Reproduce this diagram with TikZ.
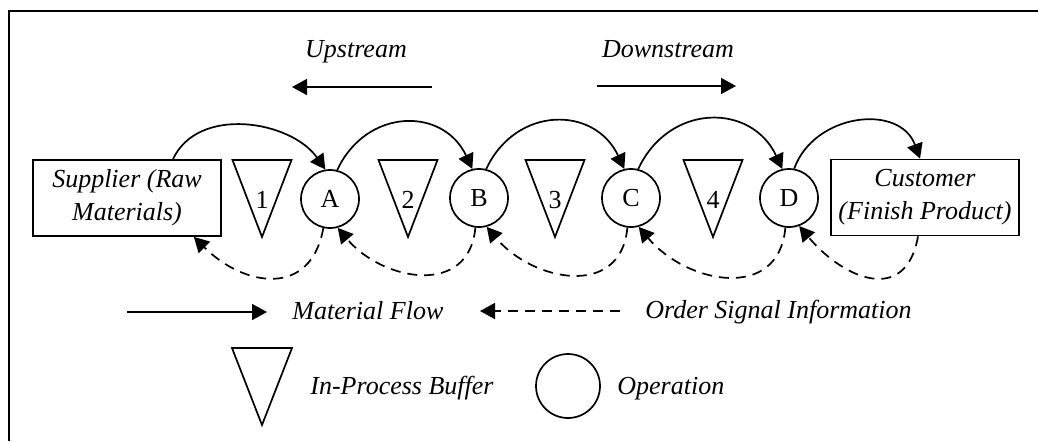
\documentclass[tikz,border=0pt]{standalone}
\usepackage{fontspec}
\setmainfont{Liberation Serif}
\usetikzlibrary{arrows.meta,calc}
\begin{document}
\begin{tikzpicture}[x=0.5pt,y=0.5pt,
  font=\fontsize{13}{16.5}\selectfont,
  shp/.style={draw,line width=0.85pt},
  box/.style={shp,rectangle,minimum width=94pt,minimum height=38pt,align=center,inner sep=0pt,font=\fontsize{13}{16.5}\selectfont\itshape},
  op/.style={shp,circle,minimum size=29pt,inner sep=0pt},
  flow/.style={line width=0.85pt,-{Triangle[length=7.5pt,width=8pt]}},
  sig/.style={flow,dash pattern=on 5pt off 3.5pt},
  lbl/.style={font=\fontsize{13}{16.5}\selectfont\itshape,inner sep=0pt}]
\useasboundingbox (0,0) rectangle (1038,-441);
\draw[line width=1.2pt] (9,-441) -- (9,-11) -- (1038,-11);

% direction labels
\node[lbl,anchor=base] (up) at (356,-57) {Upstream};
\node[lbl,anchor=base] (down) at (668,-57) {Downstream};
\coordinate (u1) at (432,-87);
\coordinate (u2) at (292,-87);
\coordinate (d1) at (597,-86);
\coordinate (d2) at (736,-86);
\draw[flow] (u1) -- (u2);
\draw[flow] (d1) -- (d2);

% boxes
\node[box] (sup) at (127,-198) {Supplier (Raw\\Materials)};
\node[box] (cus) at (925,-197.5) {Customer\\(Finish Product)};

% operations
\node[op] (A) at (330,-199) {A};
\node[op] (B) at (479,-198) {B};
\node[op] (C) at (631,-198) {C};
\node[op] (D) at (789,-198) {D};

% buffers
\foreach \n/\x in {1/262,2/408,3/555,4/713} {
  \draw[shp] ({\x-29.5},-160) -- ({\x+29.5},-160) -- (\x,-237) -- cycle;
  \node[inner sep=0pt] (t\n) at (\x,-200) {\n};
}

% material flow arcs
\draw[flow] ($(sup.north)+(46,0)$) to[out=65,in=125,looseness=1.0] (A.99);
\draw[flow] (A.76) to[out=65,in=115,looseness=1.3] (B.103);
\draw[flow] (B.76) to[out=65,in=115,looseness=1.3] (C.103);
\draw[flow] (C.76) to[out=65,in=115,looseness=1.3] (D.103);
\draw[flow] (D.80) to[out=70,in=110,looseness=1.2] ($(cus.north)+(-5,0)$);

% order signal arcs
\draw[sig] (A.257) to[out=-100,in=-45,looseness=1.4] ($(sup.south east)+(-28,0)$);
\draw[sig] (B.263) to[out=-95,in=-50,looseness=1.3] (A.285);
\draw[sig] (C.263) to[out=-95,in=-50,looseness=1.3] (B.285);
\draw[sig] (D.263) to[out=-95,in=-50,looseness=1.3] (C.285);
\draw[sig] ($(cus.south)+(-7,0)$) to[out=-100,in=-50,looseness=1.5] (D.290);

% legend
\coordinate (m1) at (127,-312);
\coordinate (m2) at (267,-312);
\draw[flow] (m1) -- (m2);
\node[lbl,anchor=base west] (mf) at (292,-319) {Material Flow};
\coordinate (s1) at (620,-311);
\coordinate (s2) at (480,-311);
\draw[sig] (s1) -- (s2);
\node[lbl,anchor=base west] (os) at (645,-318) {Order Signal Information};

\draw[shp] (232,-348) -- (292,-348) -- (262,-425) -- cycle;
\node[lbl,anchor=base west] (ipb) at (310,-394) {In-Process Buffer};
\node[op,minimum size=32pt] (lop) at (568,-386) {};
\node[lbl,anchor=base west] (opn) at (617,-394) {Operation};
\end{tikzpicture}
\end{document}
